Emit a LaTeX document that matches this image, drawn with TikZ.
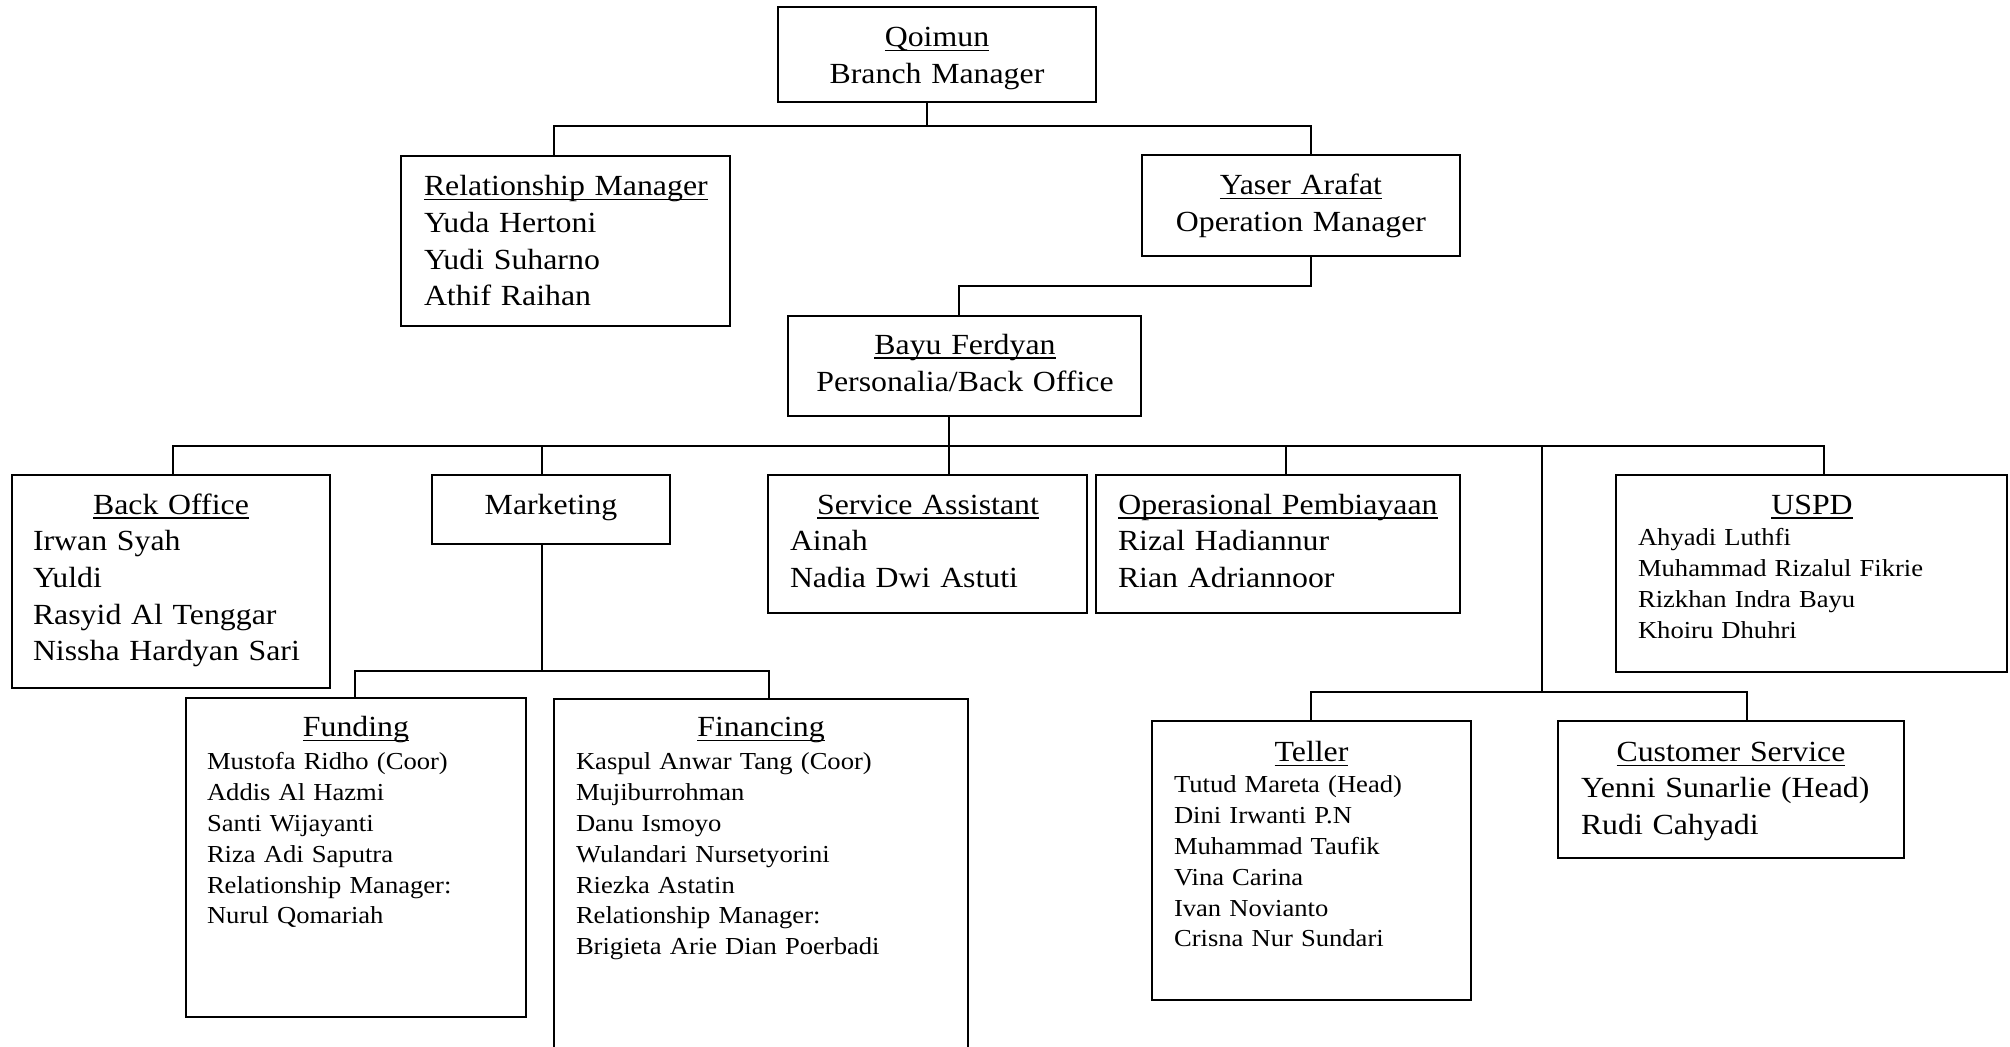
\documentclass[tikz,border=0pt]{standalone}
\usepackage{fontspec}
\setmainfont{Liberation Serif}[FakeStretch=1.09]
\usetikzlibrary{fit}
\newlength\ulw
\newcommand\myul[1]{\leavevmode\settowidth{\ulw}{#1}\rlap{\rule[-2.2pt]{\ulw}{0.75pt}}#1}
\begin{document}
\begin{tikzpicture}[x=0.5pt,y=-0.5pt,line width=1pt,
  box/.style={draw,line width=1pt,inner sep=0pt},
  big/.style={font=\fontsize{14.6}{18.3}\selectfont,inner sep=0pt},
  small/.style={font=\fontsize{12.2}{15.4}\selectfont,inner sep=0pt},
  ctitle/.style={big,anchor=base,text width=190pt,align=center},
  litems/.style={anchor=base west,text width=180pt,align=left},
  conn/.style={line width=1pt}]
\useasboundingbox (0,0) rectangle (2010,1047);
\clip (0,0) rectangle (2010,1047);
\fill[white] (0,0) rectangle (2010,1047);

% boxes
\node[box,fit={(778,7) (1096,102)}] (qoimun) {};
\node[box,fit={(401,156) (730,326)}] (rm) {};
\node[box,fit={(1142,155) (1460,256)}] (yaser) {};
\node[box,fit={(788,316) (1141,416)}] (bayu) {};
\node[box,fit={(12,475) (330,688)}] (bo) {};
\node[box,fit={(432,475) (670,544)}] (mkt) {};
\node[box,fit={(768,475) (1087,613)}] (sa) {};
\node[box,fit={(1096,475) (1460,613)}] (op) {};
\node[box,fit={(1616,475) (2007,672)}] (uspd) {};
\node[box,fit={(186,698) (526,1017)}] (funding) {};
\node[box,fit={(554,699) (968,1080)}] (financing) {};
\node[box,fit={(1152,721) (1471,1000)}] (teller) {};
\node[box,fit={(1558,721) (1904,858)}] (cs) {};

% texts
\node[ctitle] (qoimunT) at (937,47) {\myul{Qoimun}\\Branch Manager};
\node[big,litems] (rmT) at (423,196) {\myul{Relationship Manager}\\Yuda Hertoni\\Yudi Suharno\\Athif Raihan};
\node[ctitle] (yaserT) at (1301,195) {\myul{Yaser Arafat}\\Operation Manager};
\node[ctitle] (bayuT) at (965,354.5) {\myul{Bayu Ferdyan}\\Personalia/Back Office};

\node[ctitle] (boT) at (171,514.5) {\myul{Back Office}};
\node[big,litems] (boI) at (32,551) {Irwan Syah\\Yuldi\\Rasyid Al Tenggar\\Nissha Hardyan Sari};
\node[ctitle] (mktT) at (551,514.5) {Marketing};
\node[ctitle] (saT) at (928,514.5) {\myul{Service Assistant}};
\node[big,litems] (saI) at (789,551) {Ainah\\Nadia Dwi Astuti};
\node[ctitle] (opT) at (1278,514.5) {\myul{Operasional Pembiayaan}};
\node[big,litems] (opI) at (1117,551) {Rizal Hadiannur\\Rian Adriannoor};
\node[ctitle] (uspdT) at (1812,514.5) {\myul{USPD}};
\node[small,litems] (uspdI) at (1637,546) {Ahyadi Luthfi\\Muhammad Rizalul Fikrie\\Rizkhan Indra Bayu\\Khoiru Dhuhri};

\node[ctitle] (fundT) at (356,737) {\myul{Funding}};
\node[small,litems] (fundI) at (206,770) {Mustofa Ridho (Coor)\\Addis Al Hazmi\\Santi Wijayanti\\Riza Adi Saputra\\Relationship Manager:\\Nurul Qomariah};
\node[ctitle] (finT) at (761,737) {\myul{Financing}};
\node[small,litems] (finI) at (575,770) {Kaspul Anwar Tang (Coor)\\Mujiburrohman\\Danu Ismoyo\\Wulandari Nursetyorini\\Riezka Astatin\\Relationship Manager:\\Brigieta Arie Dian Poerbadi};

\node[ctitle] (tellerT) at (1311.5,762) {\myul{Teller}};
\node[small,litems] (tellerI) at (1173,793) {Tutud Mareta (Head)\\Dini Irwanti P.N\\Muhammad Taufik\\Vina Carina\\Ivan Novianto\\Crisna Nur Sundari};
\node[ctitle] (csT) at (1731,762) {\myul{Customer Service}};
\node[big,litems] (csI) at (1580,798) {Yenni Sunarlie (Head)\\Rudi Cahyadi};

% junctions
\coordinate (jq) at (926.5,126);
\coordinate (jrm) at (554,126);
\coordinate (jya) at (1311,126);
\coordinate (ja) at (1311,286);
\coordinate (jb) at (959,286);
\coordinate (jbo) at (173,446);
\coordinate (jmk) at (541.5,446);
\coordinate (jsa) at (949,446);
\coordinate (jop) at (1286,446);
\coordinate (jtc) at (1541.5,446);
\coordinate (jus) at (1824,446);
\coordinate (jtc2) at (1541.5,692.5);
\coordinate (jte) at (1310.5,692.5);
\coordinate (jcs) at (1746.5,692.5);
\coordinate (jm2) at (541.5,671.5);
\coordinate (jfu) at (354.5,671.5);
\coordinate (jfi) at (768.5,671.5);

% connectors
\draw[conn] (qoimun.south -| jq) -- (jq);
\draw[conn] (rm.north -| jrm) -- (jrm) -- (jya) -- (yaser.north -| jya);
\draw[conn] (yaser.south -| ja) -- (ja) -- (jb) -- (bayu.north -| jb);
\draw[conn] (bayu.south -| jsa) -- (sa.north -| jsa);
\draw[conn] (bo.north -| jbo) -- (jbo) -- (jus) -- (uspd.north -| jus);
\draw[conn] (jmk) -- (mkt.north -| jmk);
\draw[conn] (jop) -- (op.north -| jop);
\draw[conn] (jtc) -- (jtc2);
\draw[conn] (teller.north -| jte) -- (jte) -- (jcs) -- (cs.north -| jcs);
\draw[conn] (mkt.south -| jm2) -- (jm2);
\draw[conn] (funding.north -| jfu) -- (jfu) -- (jfi) -- (financing.north -| jfi);
\end{tikzpicture}
\end{document}
